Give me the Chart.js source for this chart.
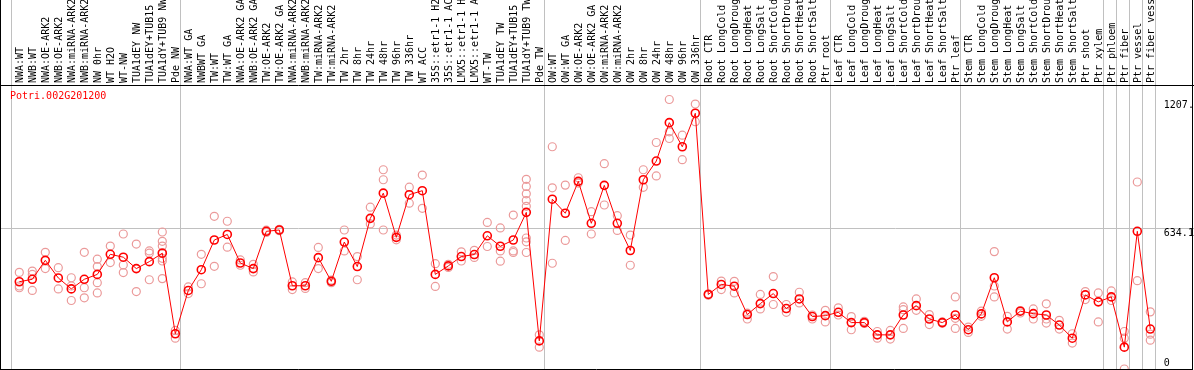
<!DOCTYPE html>
<html>
<head>
<meta charset="utf-8">
<script src="https://cdn.jsdelivr.net/npm/chart.js@4/dist/chart.umd.min.js"></script>
<style>
  html, body { margin: 0; padding: 0; background: #fff; }
  canvas { display: block; }
</style>
</head>
<body>
<canvas id="exprChart" width="1194" height="370"></canvas>
<script>
// Sample labels, one per column
const samples = [
    'NWA:WT', 'NWB:WT', 'NWA:OE-ARK2', 'NWB:OE-ARK2', 'NWA:miRNA-ARK2', 'NWB:miRNA-ARK2',
    'NW 0hr', 'WT H2O', 'WT-NW', 'TUA1dEY NW', 'TUA1dEY+TUB15 NW', 'TUA1dY+TUB9 NW', 'Pde NW',
    'NWA:WT GA', 'NWBWT GA', 'TW:WT', 'TW:WT GA', 'NWA:OE-ARK2 GA', 'NWB:OE-ARK2 GA',
    'TW:OE-ARK2', 'TW:OE-ARK2 GA', 'NWA:miRNA-ARK2 GA', 'NWB:miRNA-ARK2 GA', 'TW:miRNA-ARK2',
    'TW:miRNA-ARK2 GA', 'TW 2hr', 'TW 8hr', 'TW 24hr', 'TW 48hr', 'TW 96hr', 'TW 336hr', 'WT ACC',
    '35S::etr1-1 H2O', '35S::etr1-1 ACC', 'LMX5::etr1-1 H2O', 'LMX5::etr1-1 ACC', 'WT-TW',
    'TUA1dEY TW', 'TUA1dEY+TUB15 TW', 'TUA1dY+TUB9 TW', 'Pde TW',
    'OW:WT', 'OW:WT GA', 'OW:OE-ARK2', 'OW:OE-ARK2 GA', 'OW:miRNA-ARK2', 'OW:miRNA-ARK2 GA',
    'OW 2hr', 'OW 8hr', 'OW 24hr', 'OW 48hr', 'OW 96hr', 'OW 336hr',
    'Root CTR', 'Root LongCold', 'Root LongDrought', 'Root LongHeat', 'Root LongSalt',
    'Root ShortCold', 'Root ShortDrought', 'Root ShortHeat', 'Root ShortSalt', 'Ptr root',
    'Leaf CTR', 'Leaf LongCold', 'Leaf LongDrought', 'Leaf LongHeat', 'Leaf LongSalt',
    'Leaf ShortCold', 'Leaf ShortDrought', 'Leaf ShortHeat', 'Leaf ShortSalt', 'Ptr leaf',
    'Stem CTR', 'Stem LongCold', 'Stem LongDrought', 'Stem LongHeat', 'Stem LongSalt',
    'Stem ShortCold', 'Stem ShortDrought', 'Stem ShortHeat', 'Stem ShortSalt',
    'Ptr shoot', 'Ptr xylem', 'Ptr phloem', 'Ptr fiber', 'Ptr vessel', 'Ptr fiber vessel'
];

// Mean expression per sample
const means = [
    391, 402, 487, 408, 359, 402, 424, 514, 501, 450, 481, 519, 158,
    352, 445, 578, 603, 475, 450, 617, 623, 373, 373, 499, 393, 569, 459, 675, 788, 590,
    781, 799, 424, 462, 504, 513, 597, 550, 578, 702, 126,
    761, 698, 841, 653, 823, 653, 531, 848, 932, 1104, 996, 1146,
    334, 379, 371, 244, 293, 338, 271, 314, 235, 239,
    254, 208, 208, 153, 153, 242, 284, 224, 208, 242,
    176, 247, 409, 211, 259, 248, 242, 197, 138, 332, 301,
    323, 98, 617, 179
];

// Individual replicates per sample
const replicates = [
    [433, 372, 364], [439, 424, 352], [523, 450], [454, 359], [409, 372, 307],
    [523, 364, 319], [492, 459, 387, 341], [551, 477], [605, 466, 432], [560, 347],
    [529, 519, 400], [614, 572, 551, 522, 496, 484, 405], [173, 138],
    [368, 338], [514, 382], [684, 460], [662, 546], [489, 465], [469, 435], [612, 622],
    [620, 626], [390, 356], [387, 361], [545, 450], [387, 398], [623, 529], [504, 400],
    [725, 650], [893, 848, 623], [579, 600], [815, 743], [869, 720], [472, 370], [469, 455],
    [525, 484], [532, 500], [657, 549], [632, 529, 483], [690, 529, 522],
    [850, 818, 785, 755, 729, 587, 570, 522], [153, 98],
    [996, 812, 474], [824, 576], [857, 833], [705, 605], [920, 735], [687, 621],
    [600, 465], [893, 814], [1015, 865], [1207.8, 1063, 1033], [1048, 938], [1187, 1108],
    [337, 331], [394, 356], [393, 341], [224, 250], [334, 269], [414, 289], [289, 254],
    [344, 296], [242, 224], [263, 211],
    [274, 242], [235, 176], [214, 204], [168, 138], [173, 134], [278, 266, 182],
    [314, 263], [244, 199], [211, 205], [323, 227, 182],
    [188, 164], [259, 236], [526, 372, 323], [236, 179], [251, 262], [269, 224],
    [292, 224, 206], [218, 179], [158, 116], [347, 311], [341, 211],
    [350, 307], [168, 138, 0], [838, 396], [256, 156, 129]
];

// Column index where each sample group starts (last entry closes the final group)
const groupStarts = [0, 13, 41, 53, 63, 73, 84, 85, 86, 87, 88];

// Y axis
const yMax = 1268.2;
const yTicks = [0, 634.1, 1207.8];
const yTickLabels = ['0', '634.1', '1207.'];
const geneName = 'Potri.002G201200';

const FONT = '10px "DejaVu Sans Mono", monospace';

function strokeLine(ctx, x1, y1, x2, y2) {
    ctx.beginPath();
    ctx.moveTo(x1, y1);
    ctx.lineTo(x2, y2);
    ctx.stroke();
}

// Grid, frame, y labels and gene name
const framePlugin = {
    id: 'framePlugin',
    beforeDraw(chart) {
        const { ctx, chartArea, scales: { x, y } } = chart;
        ctx.save();
        ctx.fillStyle = '#fff';
        ctx.fillRect(0, 0, chart.width, chart.height);
        ctx.strokeStyle = '#c0c0c0';
        ctx.lineWidth = 1;
        groupStarts.forEach(i => {
            const px = Math.round(x.getPixelForValue(i) - 8) + 0.5;
            strokeLine(ctx, px, 0, px, chartArea.bottom);
        });
        const gy = Math.round(y.getPixelForValue(yTicks[1])) + 0.5;
        strokeLine(ctx, 0, gy, chart.width, gy);
        ctx.restore();
    },
    afterDraw(chart) {
        const { ctx, chartArea, scales: { y } } = chart;
        ctx.save();
        ctx.strokeStyle = '#000';
        ctx.lineWidth = 1;
        const top = Math.round(chartArea.top) - 0.5;
        strokeLine(ctx, 0, top, chart.width, top);
        strokeLine(ctx, 0.5, 0, 0.5, chart.height);
        strokeLine(ctx, chart.width - 1.5, 0, chart.width - 1.5, chart.height);
        strokeLine(ctx, 0, chart.height - 0.5, chart.width - 1, chart.height - 0.5);

        ctx.font = FONT;
        ctx.fillStyle = '#000';
        ctx.textAlign = 'left';
        yTicks.forEach((v, i) => {
            const py = y.getPixelForValue(v);
            if (v === 0) {
                ctx.textBaseline = 'bottom';
                ctx.fillText(yTickLabels[i], chartArea.right + 7, py - 1);
            } else {
                ctx.textBaseline = 'top';
                ctx.fillText(yTickLabels[i], chartArea.right + 7, py + 1);
            }
        });

        ctx.fillStyle = '#ff0000';
        ctx.textBaseline = 'top';
        ctx.fillText(geneName, 10, chartArea.top + 5);
        ctx.restore();
    }
};

const exprChart = initExprChart();

function initExprChart() {
    const ctx = document.getElementById('exprChart').getContext('2d');

    // one scatter dataset per replicate slot
    const maxReps = Math.max(...replicates.map(r => r.length));
    const repSets = [];
    for (let k = 0; k < maxReps; k++) {
        repSets.push({
            data: replicates.map(r => (k < r.length ? r[k] : null)),
            showLine: false,
            pointRadius: 4,
            pointBorderWidth: 1.2,
            pointBorderColor: '#eb9a9a',
            pointBackgroundColor: 'rgba(0,0,0,0)',
            pointHoverRadius: 4
        });
    }

    return new Chart(ctx, {
        type: 'line',
        data: {
            labels: samples,
            datasets: [
                {
                    data: means,
                    borderColor: '#ff0000',
                    borderWidth: 1,
                    tension: 0,
                    fill: false,
                    pointRadius: 4,
                    pointBorderWidth: 1.6,
                    pointBorderColor: '#ff0000',
                    pointBackgroundColor: 'rgba(0,0,0,0)',
                    pointHoverRadius: 4
                },
                ...repSets
            ]
        },
        options: {
            responsive: false,
            animation: false,
            events: [],
            layout: {
                autoPadding: false,
                padding: { left: 12.8, right: 37.2, top: 0, bottom: 1 }
            },
            plugins: {
                legend: { display: false },
                tooltip: { enabled: false }
            },
            scales: {
                x: {
                    type: 'category',
                    position: 'top',
                    offset: true,
                    grid: { display: false, drawTicks: false },
                    border: { display: false },
                    ticks: {
                        autoSkip: false,
                        minRotation: 90,
                        maxRotation: 90,
                        padding: 3,
                        labelOffset: 13,
                        color: '#000',
                        font: { family: '"DejaVu Sans Mono", monospace', size: 10 }
                    },
                    afterFit(scale) {
                        scale.height = 86;
                    }
                },
                y: {
                    display: false,
                    min: 0,
                    max: yMax
                }
            }
        },
        plugins: [framePlugin]
    });
}
</script>
</body>
</html>
